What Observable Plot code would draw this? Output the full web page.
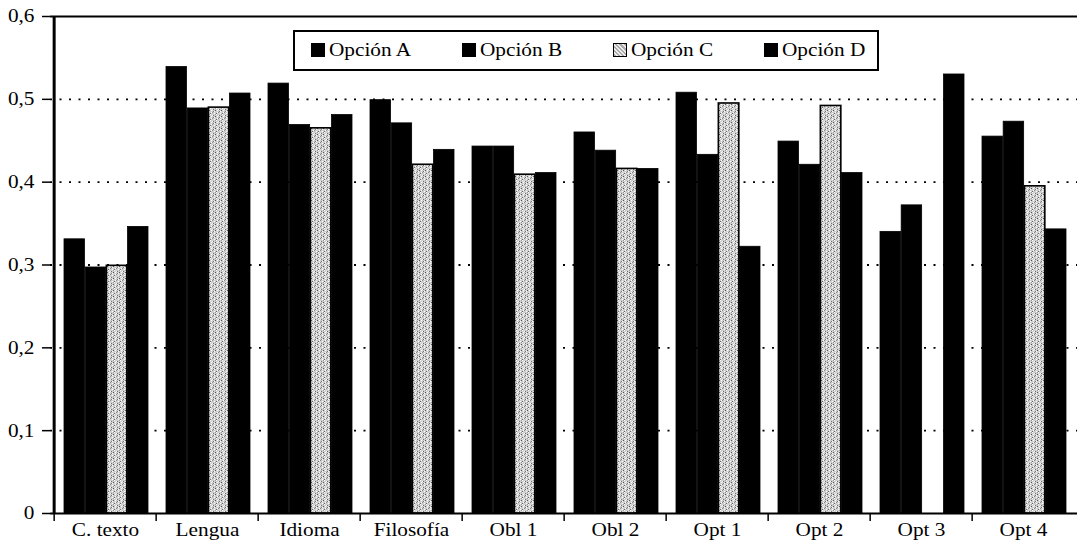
<!DOCTYPE html>
<html>
<head>
<meta charset="utf-8">
<script src="https://cdn.jsdelivr.net/npm/d3@7"></script>
<script src="https://cdn.jsdelivr.net/npm/@observablehq/plot@0.6"></script>
<style>
  html, body { margin: 0; padding: 0; background: #fff; }
  #wrap { position: relative; width: 1077px; height: 550px; }
  #legend { position: absolute; left: 293px; top: 30px; width: 582px; height: 37px;
            border: 2px solid #000; background: #fff; font-family: "Liberation Serif", "Times New Roman", serif; font-size: 18.5px; color: #000; }
  .item { position: absolute; top: 8px; height: 21px; line-height: 21px; white-space: nowrap; }
  .sw { display: inline-block; width: 14px; height: 14px; vertical-align: -1px; margin-right: 4px; box-sizing: border-box; }
  .lt { display: inline-block; transform: scaleX(1.15); transform-origin: left center; }
</style>
</head>
<body>
<div id="wrap"></div>
<script>
const categories = ["C. texto", "Lengua", "Idioma", "Filosofía", "Obl 1", "Obl 2", "Opt 1", "Opt 2", "Opt 3", "Opt 4"];
const seriesNames = ["Opción A", "Opción B", "Opción C", "Opción D"];
const valuesA = [0.331, 0.539, 0.519, 0.499, 0.443, 0.460, 0.508, 0.449, 0.340, 0.455];
const valuesB = [0.297, 0.489, 0.469, 0.471, 0.443, 0.438, 0.433, 0.421, 0.372, 0.473];
const valuesC = [0.299, 0.490, 0.465, 0.421, 0.409, 0.416, 0.495, 0.492, null, 0.395];
const valuesD = [0.346, 0.507, 0.481, 0.439, 0.411, 0.416, 0.322, 0.411, 0.530, 0.343];
const yTicks = [0, 0.1, 0.2, 0.3, 0.4, 0.5, 0.6];
const gridTicks = [0.1, 0.2, 0.3, 0.4, 0.5];

const seriesValues = [valuesA, valuesB, valuesC, valuesD];
const rows = [];
seriesNames.forEach((s, i) => categories.forEach((c, j) => {
  if (seriesValues[i][j] != null) rows.push({series: s, category: c, value: seriesValues[i][j]});
}));

const W = 1077, H = 550, mL = 50, mR = 0, mT = 16, mB = 37;
const step = (W - mL - mR) / categories.length;
const gL = 10, gR = 8;
const bw = (step - gL - gR) / seriesNames.length;
const fmt = d => d === 0 ? "0" : d.toFixed(1).replace(".", ",");
const FS = 18.5;

const barMarks = seriesNames.map((s, i) => Plot.barY(rows.filter(r => r.series === s), {
  x: "category", y: "value",
  insetLeft: gL + i * bw, insetRight: step - gL - (i + 1) * bw,
  fill: s === "Opción C" ? "url(#stip)" : "#000",
  stroke: "#000",
  strokeWidth: s === "Opción C" ? 1.6 : 0.8
}));

const chart = Plot.plot({
  width: W, height: H,
  marginLeft: mL, marginRight: mR, marginTop: mT, marginBottom: mB,
  style: {fontFamily: "Liberation Serif, Times New Roman, serif", fontSize: FS + "px", color: "#000", background: "#fff"},
  x: {domain: categories, padding: 0, label: null},
  y: {domain: [0, 0.6], label: null},
  marks: [
    Plot.ruleY(gridTicks, {stroke: "#000", strokeWidth: 1.8, strokeDasharray: "2,7.5", strokeOpacity: 1}),
    ...barMarks,
    Plot.ruleY([0], {stroke: "#000", strokeWidth: 2}),
    Plot.ruleY([0.6], {stroke: "#000", strokeWidth: 2}),
    Plot.ruleX([categories[0]], {dx: -step / 2, y1: 0, y2: 0.6, stroke: "#000", strokeWidth: 3}),
    Plot.ruleX(categories, {x: d => d, dx: -step / 2, y1: 0, y2: 0, insetBottom: -8, stroke: "#000", strokeWidth: 1.5}),
    Plot.axisY({ticks: yTicks, tickFormat: fmt, tickSize: 8, tickPadding: 8, stroke: "#000", strokeWidth: 1.5, fill: "#000", fontSize: FS}),
    Plot.axisX({tickSize: 0, tickPadding: 9, fill: "#000", fontSize: FS})
  ]
});

// widen text horizontally to match the stretched serif type of the original
d3.select(chart).selectAll("text").each(function () {
  const t = this.getAttribute("transform");
  if (t && t.startsWith("translate")) this.setAttribute("transform", t + " scale(1.15,1)");
});

// stipple pattern for Opción C
const defs = d3.select(chart).insert("defs", ":first-child");
const pat = defs.append("pattern").attr("id", "stip").attr("patternUnits", "userSpaceOnUse")
  .attr("width", 6).attr("height", 6);
pat.append("rect").attr("width", 6).attr("height", 6).attr("fill", "#cfcfcf");
const dots = [[0,0,"#fff"],[3,1,"#6f6f6f"],[1,2,"#fff"],[5,2,"#555"],[2,4,"#888"],[4,3,"#fff"],[0,5,"#666"],[4,5,"#fff"],[1,4,"#fff"],[5,0,"#999"],[2,1,"#f4f4f4"],[3,3,"#777"]];
dots.forEach(([x, y, c]) => pat.append("rect").attr("x", x).attr("y", y).attr("width", 1).attr("height", 1).attr("fill", c));

const wrap = document.getElementById("wrap");
wrap.appendChild(chart);

// legend (inside plot area)
const legend = document.createElement("div");
legend.id = "legend";
seriesNames.forEach((s, i) => {
  const it = document.createElement("div");
  it.className = "item";
  it.style.left = (16 + i * 151) + "px";
  const sw = document.createElement("span");
  sw.className = "sw";
  if (s === "Opción C") {
    sw.style.background = "repeating-linear-gradient(45deg,#aaa 0 1.5px,#eee 1.5px 3px)";
    sw.style.border = "1.5px solid #000";
  } else {
    sw.style.background = "#000";
  }
  it.appendChild(sw);
  const tx = document.createElement("span");
  tx.className = "lt";
  tx.textContent = s;
  it.appendChild(tx);
  legend.appendChild(it);
});
wrap.appendChild(legend);
</script>
</body>
</html>
